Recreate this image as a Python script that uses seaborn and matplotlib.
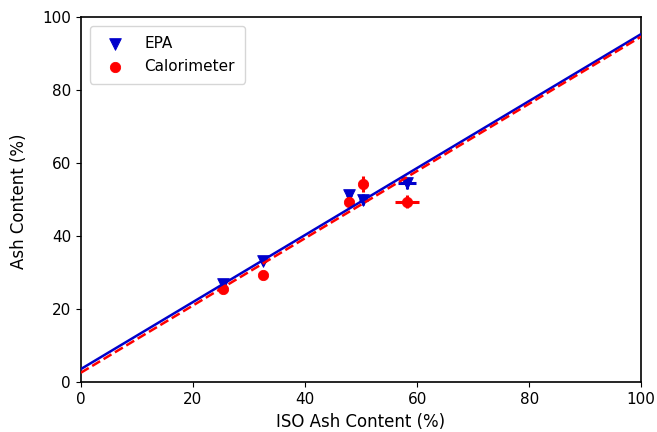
import matplotlib
matplotlib.use("Agg")
import matplotlib.pyplot as plt
import seaborn as sns
import numpy as np
import pandas as pd

iso = [25.4, 32.5, 47.9, 50.4, 58.2]
iso_err_epa = [0.5, 0.5, 0.5, 0.8, 1.6]
iso_err_cal = [0.5, 0.5, 0.5, 0.8, 2.2]
epa = [26.8, 33.0, 51.3, 49.9, 54.4]
epa_err = [1.0, 1.0, 1.2, 1.5, 1.5]
cal = [25.4, 29.3, 49.4, 54.2, 49.4]
cal_err = [1.0, 1.2, 1.2, 2.2, 1.8]

fit_x = [0, 100]
epa_fit = [3.5, 95.3]
cal_fit = [2.5, 94.6]

sns.set_style("ticks")
plt.rcParams['font.family'] = ['DejaVu Sans']
plt.rcParams['text.color'] = 'black'
plt.rcParams['axes.labelcolor'] = 'black'
plt.rcParams['xtick.color'] = 'black'
plt.rcParams['ytick.color'] = 'black'

fig = plt.figure(figsize=(6.57, 4.32), dpi=100)
ax = fig.add_axes([0.123, 0.116, 0.853, 0.845])

df_epa = pd.DataFrame({"x": iso, "y": epa})
df_cal = pd.DataFrame({"x": iso, "y": cal})

ax.errorbar(iso, epa, xerr=iso_err_epa, yerr=epa_err, fmt='none', ecolor='#0000cc', elinewidth=2.2, zorder=2)
ax.errorbar(iso, cal, xerr=iso_err_cal, yerr=cal_err, fmt='none', ecolor='red', elinewidth=2.2, zorder=2)

sns.scatterplot(data=df_epa, x="x", y="y", marker="v", color="#0000cc", s=70, edgecolor="#0000cc", ax=ax, label="EPA", zorder=3)
sns.scatterplot(data=df_cal, x="x", y="y", marker="o", color="red", s=55, edgecolor="red", ax=ax, label="Calorimeter", zorder=3)

sns.lineplot(x=fit_x, y=epa_fit, color="#0000cc", lw=1.8, ax=ax, zorder=4)
sns.lineplot(x=fit_x, y=cal_fit, color="red", lw=1.8, ls="--", ax=ax, zorder=4)

ax.set_xlim(0, 100)
ax.set_ylim(0, 100)
ax.set_xticks([0, 20, 40, 60, 80, 100])
ax.set_yticks([0, 20, 40, 60, 80, 100])
ax.tick_params(labelsize=11, colors='black')
ax.set_xlabel("ISO Ash Content (%)", fontsize=12, color='black')
ax.set_ylabel("Ash Content (%)", fontsize=12, color='black')
ax.xaxis.set_label_coords(0.499, -0.086)
ax.yaxis.set_label_coords(-0.095, 0.495)
for s in ax.spines.values():
    s.set_visible(True)
    s.set_linewidth(1.2)
    s.set_color("black")

h, l = ax.get_legend_handles_labels()
ax.legend(h[:2], l[:2], loc="upper left", fontsize=11, frameon=True,
          borderpad=0.65, handletextpad=0.9, borderaxespad=0.6)

fig.savefig("out.png", dpi=100)
